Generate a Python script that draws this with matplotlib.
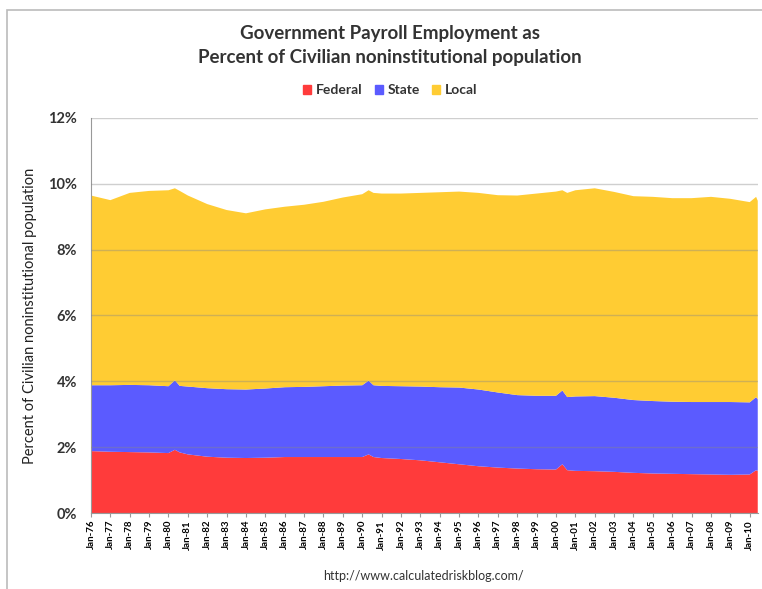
import numpy as np
import pandas as pd
import matplotlib
matplotlib.use('Agg')
import matplotlib.pyplot as plt
import matplotlib.patches as mpatches

plt.rcParams['font.family'] = ['Lato', 'DejaVu Sans']

# readings (percent of civilian noninstitutional population)
dates = ['1976-01', '1977-01', '1978-01', '1979-01', '1980-01', '1980-05', '1980-08',
         '1981-01', '1982-01', '1983-01', '1984-01', '1985-01', '1986-01', '1987-01',
         '1988-01', '1989-01', '1990-01', '1990-05', '1990-08', '1991-01', '1992-01',
         '1993-01', '1994-01', '1995-01', '1996-01', '1997-01', '1998-01', '1999-01',
         '2000-01', '2000-05', '2000-08', '2001-01', '2002-01', '2003-01', '2004-01',
         '2005-01', '2006-01', '2007-01', '2008-01', '2009-01', '2010-01', '2010-05',
         '2010-06']
federal = [1.88, 1.86, 1.85, 1.84, 1.82, 1.92, 1.84, 1.78, 1.71, 1.68, 1.67, 1.68,
           1.70, 1.70, 1.70, 1.70, 1.70, 1.78, 1.70, 1.67, 1.64, 1.60, 1.54, 1.48,
           1.42, 1.38, 1.35, 1.33, 1.32, 1.48, 1.30, 1.28, 1.27, 1.25, 1.22, 1.20,
           1.19, 1.18, 1.17, 1.16, 1.17, 1.30, 1.28]
state = [2.00, 2.02, 2.04, 2.04, 2.03, 2.11, 2.02, 2.06, 2.08, 2.08, 2.08, 2.10,
         2.12, 2.13, 2.15, 2.17, 2.18, 2.24, 2.18, 2.19, 2.21, 2.24, 2.28, 2.33,
         2.33, 2.28, 2.23, 2.23, 2.24, 2.24, 2.22, 2.26, 2.28, 2.25, 2.21, 2.20,
         2.19, 2.19, 2.20, 2.21, 2.19, 2.22, 2.17]
local = [5.76, 5.62, 5.83, 5.90, 5.95, 5.83, 5.92, 5.80, 5.59, 5.44, 5.35, 5.44,
         5.48, 5.53, 5.60, 5.71, 5.80, 5.78, 5.84, 5.84, 5.85, 5.88, 5.92, 5.95,
         5.97, 5.99, 6.06, 6.14, 6.20, 6.08, 6.20, 6.26, 6.31, 6.25, 6.19, 6.20,
         6.18, 6.19, 6.23, 6.17, 6.08, 6.08, 6.03]
series_names = ['Federal', 'State', 'Local']
colors = ['#ff3b3b', '#5b5bff', '#ffcc33']

x = pd.to_datetime(dates)
years = list(range(1976, 2011))
tick_labels = [f'Jan-{y % 100:02d}' for y in years]

fig = plt.figure(figsize=(7.62, 5.89), dpi=100)
ax = fig.add_axes([0.1194, 0.129, 0.876, 0.671])

ax.stackplot(x, federal, state, local, colors=colors, linewidth=0, zorder=1)

ax.set_ylim(0, 12)
ax.set_yticks(np.arange(0, 13, 2))
ax.set_yticklabels([f'{v}%' for v in range(0, 13, 2)], fontsize=10.5, fontweight='bold',
                   color='#333333')
ax.set_xlim(pd.Timestamp('1976-01-01'), pd.Timestamp('2010-06-15'))
ax.set_xticks(pd.to_datetime([f'{y}-01-01' for y in years]))
ax.set_xticklabels(tick_labels, rotation=90, fontsize=7, fontweight='bold')
ax.tick_params(axis='x', length=3, color='#999999', pad=2)
ax.tick_params(axis='y', length=0, pad=10)

ax.grid(axis='y', color='#888888', linewidth=1.0, alpha=0.4, zorder=3)
ax.set_axisbelow(False)
for s in ['top', 'right']:
    ax.spines[s].set_visible(False)
ax.spines['left'].set_color('#999999')
ax.spines['bottom'].set_color('#999999')

ax.set_ylabel('Percent of Civilian noninstitutional population', fontsize=10.5,
              color='#222222', labelpad=8)

fig.text(0.512, 0.943, 'Government Payroll Employment as', ha='center', va='center',
         fontsize=13.5, fontweight='bold', color='#333333')
fig.text(0.512, 0.902, 'Percent of Civilian noninstitutional population', ha='center',
         va='center', fontsize=13.5, fontweight='bold', color='#333333')

handles = [mpatches.Patch(color=c, label=n) for c, n in zip(colors, series_names)]
leg = fig.legend(handles=handles, loc='center', bbox_to_anchor=(0.512, 0.847), ncol=3,
                 frameon=False, fontsize=10, handlelength=0.6, handleheight=0.6,
                 handletextpad=0.3, columnspacing=0.9)
for t in leg.get_texts():
    t.set_fontweight('bold')
    t.set_color('#333333')

fig.text(0.556, 0.022, 'http://www.calculatedriskblog.com/', ha='center', va='center',
         fontsize=9, color='#333333')

# outer frame of the chart
fig.patches.append(mpatches.Rectangle((7 / 762, -0.05), 1.2, 1 - 10 / 589 + 0.05,
                                      transform=fig.transFigure, fill=False,
                                      edgecolor='#bbbbbb', linewidth=1.2))

fig.savefig('out.png', dpi=100)
